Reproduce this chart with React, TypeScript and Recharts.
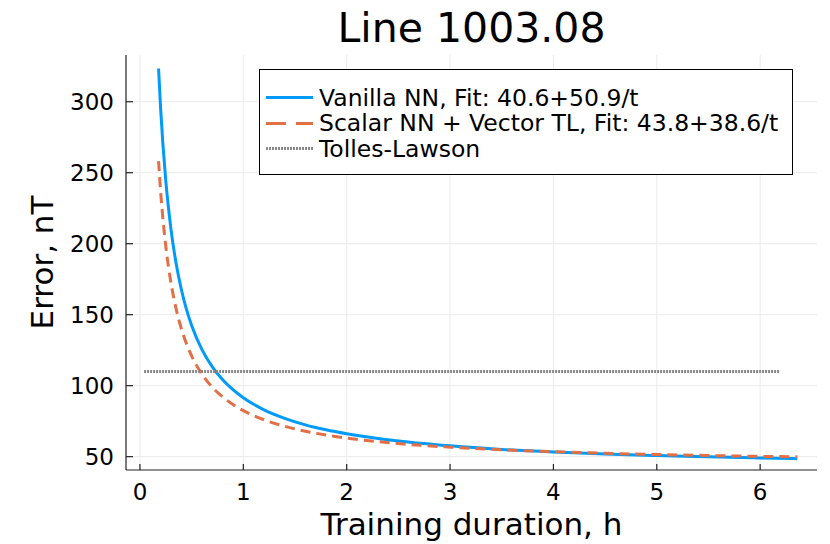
import React from "react";
import { LineChart, Line, XAxis, YAxis, CartesianGrid, Legend } from "recharts";

// training duration (h) where the fitted curves were read
const durations = [
  0.18, 0.2, 0.25, 0.3, 0.35, 0.4, 0.45, 0.5, 0.6, 0.7, 0.8, 0.9, 1.0, 1.2, 1.4,
  1.6, 1.8, 2.0, 2.5, 3.0, 3.5, 4.0, 4.5, 5.0, 5.5, 6.0, 6.36,
];
const vanillaError = [
  323.4, 295.1, 244.2, 210.3, 186.0, 167.9, 153.7, 142.4, 125.4, 113.3, 104.2,
  97.2, 91.5, 83.0, 77.0, 72.4, 68.9, 66.1, 61.0, 57.6, 55.1, 53.3, 51.9, 50.8,
  49.9, 49.1, 48.6,
];
const scalarError = [
  258.2, 236.8, 198.2, 172.5, 154.1, 140.3, 129.6, 121.0, 108.1, 98.9, 92.1,
  86.7, 82.4, 76.0, 71.4, 67.9, 65.2, 63.1, 59.2, 56.7, 54.8, 53.5, 52.4, 51.5,
  50.8, 50.2, 49.9,
];
const tollesDuration = [0.04, 6.19];
const tollesError = [110, 110];

const xTicks = [0, 1, 2, 3, 4, 5, 6];
const yTicks = [50, 100, 150, 200, 250, 300];

const series = [
  { key: "vanilla", name: "Vanilla NN, Fit: 40.6+50.9/t", color: "#009af9", width: 3, dash: undefined as string | undefined, legendDash: undefined as string | undefined },
  { key: "scalar", name: "Scalar NN + Vector TL, Fit: 43.8+38.6/t", color: "#e26f46", width: 3, dash: "10 6", legendDash: "20 10" },
  { key: "tl", name: "Tolles-Lawson", color: "#888888", width: 3, dash: "2 1", legendDash: "2 1" },
];

const curveData = durations.map((t, i) => ({
  t,
  vanilla: vanillaError[i],
  scalar: scalarError[i],
}));
const tollesData = tollesDuration.map((t, i) => ({ t, tl: tollesError[i] }));

const FONT = "DejaVu Sans";

const YTick = (props: any) => {
  const { x, y, payload } = props;
  return (
    <g>
      <line x1={x + 12} x2={x + 19} y1={y} y2={y} stroke="#222" strokeWidth={1.2} />
      <text x={x} y={y} dy="0.36em" textAnchor="end" fontSize={23} fontFamily={FONT} fill="#000">
        {payload.value}
      </text>
    </g>
  );
};

const XTick = (props: any) => {
  const { x, y, payload } = props;
  return (
    <g>
      <line x1={x} x2={x} y1={y - 13} y2={y - 19} stroke="#222" strokeWidth={1.2} />
      <text x={x} y={y} dy="0.73em" textAnchor="middle" fontSize={23} fontFamily={FONT} fill="#000">
        {payload.value}
      </text>
    </g>
  );
};

const LegendBox = () => (
  <div
    style={{
      width: 534,
      height: 106,
      boxSizing: "border-box",
      border: "1px solid #000",
      background: "#fff",
      paddingTop: 15,
      fontFamily: FONT,
      fontSize: 23.5,
    }}
  >
    {series.map((s) => (
      <div key={s.key} style={{ display: "flex", alignItems: "center", height: 25.5 }}>
        <svg width={59} height={25} style={{ flex: "none" }}>
          <line x1={6} x2={53} y1={12.5} y2={12.5} stroke={s.color} strokeWidth={s.width} strokeDasharray={s.legendDash} />
        </svg>
        <span style={{ whiteSpace: "nowrap", color: "#000" }}>{s.name}</span>
      </div>
    ))}
  </div>
);

export default function App() {
  return (
    <div style={{ position: "absolute", left: 0, top: 0, width: 830, height: 544, background: "#fff" }}>
      <div
        style={{
          position: "absolute",
          left: 126,
          top: 8,
          width: 691,
          textAlign: "center",
          fontFamily: FONT,
          fontSize: 41,
          lineHeight: "41px",
          color: "#000",
        }}
      >
        Line 1003.08
      </div>
      <LineChart width={830} height={544} margin={{ top: 55, right: 13, bottom: 0, left: 0 }}>
        <CartesianGrid stroke="#ebebeb" strokeWidth={1} syncWithTicks />
        <XAxis
          dataKey="t"
          type="number"
          domain={[-0.135, 6.55]}
          ticks={xTicks}
          allowDataOverflow
          height={74}
          stroke="#222"
          strokeWidth={1.2}
          tickSize={0}
          tickMargin={13}
          tick={<XTick />}
          label={{
            content: (p: any) => {
              const vb = p.viewBox;
              return (
                <text x={vb.x + vb.width / 2} y={vb.y + 65} textAnchor="middle" fontSize={31} fontFamily={FONT} fill="#000">
                  Training duration, h
                </text>
              );
            },
          }}
        />
        <YAxis
          type="number"
          domain={[40.6, 332.9]}
          ticks={yTicks}
          allowDataOverflow
          width={126}
          stroke="#222"
          strokeWidth={1.2}
          tickSize={0}
          tickMargin={12}
          tick={<YTick />}
          label={{
            content: (p: any) => {
              const vb = p.viewBox;
              const cx = vb.x + 53;
              const cy = vb.y + vb.height / 2;
              return (
                <text x={cx} y={cy} transform={`rotate(-90, ${cx}, ${cy})`} textAnchor="middle" fontSize={31} fontFamily={FONT} fill="#000">
                  Error, nT
                </text>
              );
            },
          }}
        />
        <Legend
          layout="vertical"
          align="center"
          verticalAlign="middle"
          content={<LegendBox />}
          wrapperStyle={{ position: "absolute", left: 259, top: 69, width: 534, height: 106 }}
        />
        <Line
          data={curveData}
          dataKey="vanilla"
          name={series[0].name}
          type="monotone"
          stroke={series[0].color}
          strokeWidth={series[0].width}
          dot={false}
          activeDot={false}
          isAnimationActive={false}
        />
        <Line
          data={curveData}
          dataKey="scalar"
          name={series[1].name}
          type="monotone"
          stroke={series[1].color}
          strokeWidth={series[1].width}
          strokeDasharray={series[1].dash}
          dot={false}
          activeDot={false}
          isAnimationActive={false}
        />
        <Line
          data={tollesData}
          dataKey="tl"
          name={series[2].name}
          type="linear"
          stroke={series[2].color}
          strokeWidth={series[2].width}
          strokeDasharray={series[2].dash}
          dot={false}
          activeDot={false}
          isAnimationActive={false}
        />
      </LineChart>
    </div>
  );
}
